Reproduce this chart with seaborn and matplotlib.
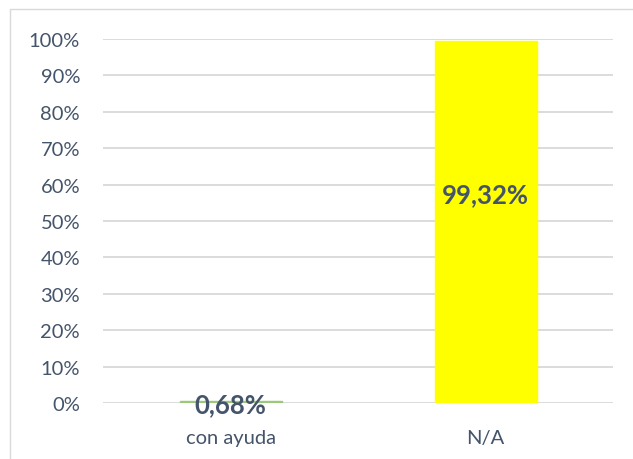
import matplotlib.pyplot as plt
import matplotlib.lines as mlines
import pandas as pd
import seaborn as sns

# Chart data
categories = ['con ayuda', 'N/A']
values = [0.68, 99.32]
labels = ['0,68%', '99,32%']
bar_colors = ['#9BC87A', '#FFFF00']
yticks = list(range(0, 101, 10))

df = pd.DataFrame({'cat': categories, 'val': values})

sns.set_style('white')
plt.rcParams['font.family'] = ['Lato', 'DejaVu Sans']
text_color = '#44546A'

fig = plt.figure(figsize=(6.33, 4.6), dpi=100)
ax = fig.add_axes([103 / 633, 56 / 460, 510 / 633, 364 / 460])

sns.barplot(data=df, x='cat', y='val', hue='cat', palette=bar_colors,
            width=0.4, legend=False, ax=ax, saturation=1)
for p in ax.patches:
    p.set_zorder(3)
    p.set_edgecolor(p.get_facecolor())  # thin edge so the tiny bar shows
    p.set_linewidth(1)

ax.set_ylim(0, 100)
ax.set_yticks(yticks)
ax.set_yticklabels([f'{t}%' for t in yticks])
ax.yaxis.grid(True, color='#D9D9D9', linewidth=1.3)
ax.set_axisbelow(True)
ax.set_xlabel('')
ax.set_ylabel('')
for s in ax.spines.values():
    s.set_visible(False)
ax.tick_params(axis='both', length=0, labelsize=14.5, colors=text_color)
ax.tick_params(axis='y', pad=16.5)
ax.tick_params(axis='x', pad=19)

# data labels: small one at the base, big one inside the bar
ax.text(0, -0.3, labels[0], ha='center', va='center', fontsize=18.5,
        fontweight='bold', color=text_color, zorder=4)
ax.text(1, 57.5, labels[1], ha='center', va='center', fontsize=18.5,
        fontweight='bold', color=text_color, zorder=4)

# chart frame (only left and top edges fall inside the picture)
fig.lines.append(mlines.Line2D([9.5 / 633, 9.5 / 633], [0, 450 / 460],
                               transform=fig.transFigure, color='#D9D9D9', lw=1))
fig.lines.append(mlines.Line2D([9.5 / 633, 1], [450 / 460, 450 / 460],
                               transform=fig.transFigure, color='#D9D9D9', lw=1))

fig.savefig('out.png', dpi=100)
